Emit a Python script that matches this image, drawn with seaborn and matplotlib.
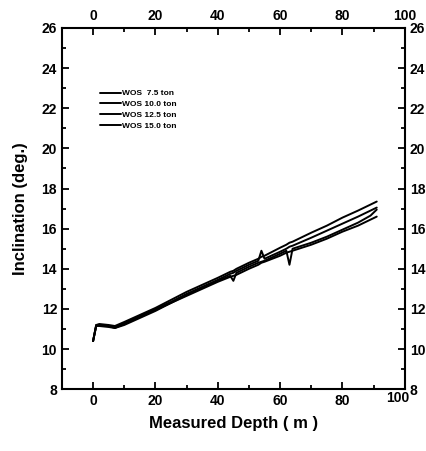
import pandas as pd
import matplotlib.pyplot as plt
import seaborn as sns
from matplotlib.ticker import MultipleLocator
from matplotlib.transforms import ScaledTranslation

# measured depth (m)
depth = [0, 1, 2, 5, 7, 10, 15, 20, 25, 30, 35, 40, 44, 45, 46, 50, 53, 54, 55, 60, 62, 63, 64,
         70, 75, 80, 85, 89, 91]

# inclination (deg.) for each weight on bit
wob_75 = [10.4, 11.2, 11.25, 11.2, 11.15, 11.35, 11.7, 12.05, 12.45, 12.85, 13.2, 13.55, 13.85, 13.9, 14.0,
          14.3, 14.5, 14.6, 14.65, 15.05, 15.2, 15.3, 15.35, 15.8, 16.15, 16.55, 16.9, 17.2, 17.35]
wob_100 = [10.4, 11.2, 11.2, 11.15, 11.1, 11.3, 11.65, 12.0, 12.35, 12.75, 13.1, 13.45, 13.75, 13.8, 13.9,
           14.2, 14.4, 14.9, 14.5, 14.85, 15.0, 15.1, 15.15, 15.55, 15.9, 16.25, 16.6, 16.9, 17.05]
wob_125 = [10.4, 11.15, 11.2, 11.15, 11.05, 11.25, 11.6, 11.95, 12.3, 12.7, 13.05, 13.4, 13.65, 13.4, 13.8,
           14.1, 14.3, 14.35, 14.4, 14.75, 14.9, 14.2, 15.0, 15.3, 15.6, 15.95, 16.3, 16.65, 16.95]
wob_150 = [10.4, 11.15, 11.15, 11.1, 11.05, 11.2, 11.55, 11.9, 12.3, 12.65, 13.0, 13.35, 13.6, 13.65, 13.7,
           14.0, 14.2, 14.3, 14.35, 14.65, 14.8, 14.85, 14.9, 15.2, 15.5, 15.85, 16.15, 16.45, 16.6]
labels = ['WOS  7.5 ton', 'WOS 10.0 ton', 'WOS 12.5 ton', 'WOS 15.0 ton']

rows = []
for lab, vals in zip(labels, [wob_75, wob_100, wob_125, wob_150]):
    for d, v in zip(depth, vals):
        rows.append({'depth': d, 'incl': v, 'series': lab})
df = pd.DataFrame(rows)

sns.set_style("ticks")
plt.rcParams['font.family'] = ['Liberation Sans', 'DejaVu Sans']
plt.rcParams['font.weight'] = 'bold'
plt.rcParams['text.color'] = 'black'
plt.rcParams['axes.labelcolor'] = 'black'
plt.rcParams['xtick.color'] = 'black'
plt.rcParams['ytick.color'] = 'black'

fig = plt.figure(figsize=(4.27, 4.51), dpi=100)
ax = fig.add_axes([0.145, 0.137, 0.803, 0.801])

sns.lineplot(data=df, x='depth', y='incl', hue='series', estimator=None, sort=False,
             palette=['black'] * 4, linewidth=1.4, ax=ax)

ax.set_xlim(-10, 100)
ax.set_ylim(8, 26)
ax.xaxis.set_major_locator(MultipleLocator(20))
ax.xaxis.set_minor_locator(MultipleLocator(10))
ax.yaxis.set_major_locator(MultipleLocator(2))
ax.yaxis.set_minor_locator(MultipleLocator(1))
ax.set_xticks([0, 20, 40, 60, 80, 100])
ax.tick_params(which='both', direction='in', top=True, right=True,
               labeltop=True, labelright=True, width=1.3, labelsize=10)
ax.tick_params(which='major', length=5)
ax.tick_params(which='minor', length=3)
for s in ax.spines.values():
    s.set_linewidth(1.5)
    s.set_color('black')

# keep the bottom "100" clear of the right-hand "8"
last_tick = ax.xaxis.get_major_ticks()[-1]
last_tick.label1.set_transform(last_tick.label1.get_transform()
                               + ScaledTranslation(-5 / 72, 2 / 72, fig.dpi_scale_trans))

ax.set_xlabel('Measured Depth ( m )', fontsize=12, fontweight='bold', labelpad=6)
ax.set_ylabel('Inclination (deg.)', fontsize=12, fontweight='bold', labelpad=10)

leg = ax.legend(loc='upper left', bbox_to_anchor=(0.09, 0.85), frameon=False,
                fontsize=6, handlelength=2.5, handletextpad=0.1, labelspacing=0.35)
for t in leg.get_texts():
    t.set_fontweight('bold')

plt.savefig('out.png', dpi=100)
